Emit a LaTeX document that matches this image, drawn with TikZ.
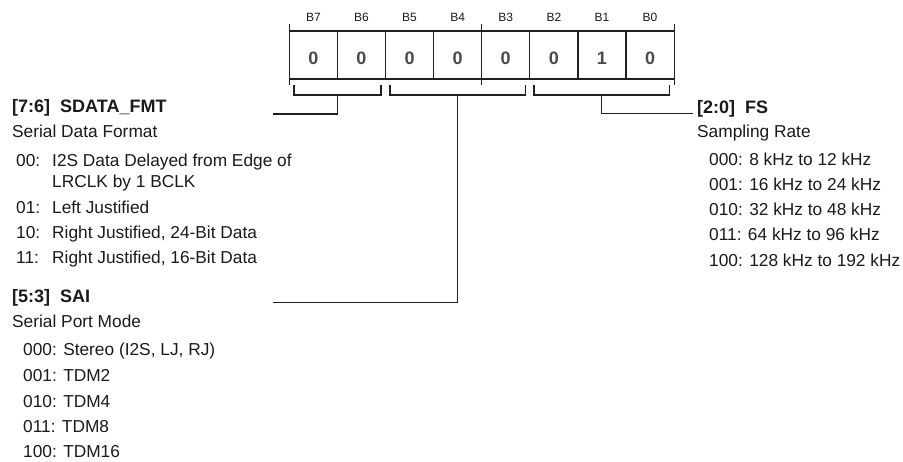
\documentclass[tikz,border=0pt]{standalone}
\usepackage{fontspec}
\setmainfont{Liberation Sans}
\definecolor{linec}{HTML}{202020}
\definecolor{textc}{HTML}{1A1A1A}
\definecolor{digitc}{HTML}{4A4A4A}
\begin{document}
\begin{tikzpicture}[x=1pt,y=-1pt,
  cellbox/.style={draw=linec, line width=1.2pt, minimum width=48.1pt, minimum height=48pt, inner sep=0pt, outer sep=0pt},
  reg/.style={line width=1.2pt, draw=linec},
  conn/.style={line width=1.2pt, draw=linec},
  txt/.style={anchor=base west, inner sep=0pt, font=\fontsize{17.3}{20}\selectfont, text=textc},
  ttl/.style={anchor=base west, inner sep=0pt, font=\fontsize{18}{20}\selectfont\bfseries, text=textc},
  bitlbl/.style={anchor=base, inner sep=0pt, font=\fontsize{12}{14}\selectfont, text=textc},
  bitval/.style={anchor=base, inner sep=0pt, font=\fontsize{18}{20}\selectfont\bfseries, text=digitc}]
\useasboundingbox (0,0) rectangle (903,462);
% register cells
\foreach \b/\v [count=\k from 0] in {7/0,6/0,5/0,4/0,3/0,2/0,1/1,0/0}{
  \pgfmathsetmacro{\cx}{289.3+24.05+\k*48.1}
  \node[cellbox] (c\b) at (\cx,55) {};
  \node[bitlbl] (l\b) at (\cx,21.8) {B\b};
  \node[bitval] (v\b) at (\cx,64.5) {\v};
}
% extended ticks
\draw[reg] ([yshift=7pt]c7.north west) -- ([yshift=-6pt]c7.south west);
\draw[reg] ([yshift=7pt]c3.north west) -- ([yshift=-6pt]c3.south west);
\draw[reg] ([yshift=7pt]c0.north east) -- ([yshift=-6pt]c0.south east);
% brackets
\coordinate (b1) at (337.6,95);
\coordinate (b2) at (457.8,95);
\coordinate (b3) at (601.8,95);
\draw[reg] (294,85) -- (294,95) -- (381,95) -- (381,85);
\draw[reg] (390,85) -- (390,95) -- (525.5,95) -- (525.5,85);
\draw[reg] (534,85) -- (534,95) -- (669.5,95) -- (669.5,85);
% connector ends
\coordinate (e1) at (273,114);
\coordinate (e2) at (273,302.5);
\coordinate (e3) at (693,113.5);
\draw[conn] (b1) |- (e1);
\draw[conn] (b2) |- (e2);
\draw[conn] (b3) |- (e3);
% SDATA_FMT
\node[ttl] (t1) at (12,113) {[7:6]\ \ SDATA\_FMT};
\node[txt] (t1s) at (12,137.7) {Serial Data Format};
\node[txt] (t1a) at (16,167) {00:};
\node[txt] (t1ad) at (52,167) {I2S Data Delayed from Edge of};
\node[txt] (t1ae) at (52,188) {LRCLK by 1 BCLK};
\node[txt] (t1b) at (16,214) {01:};
\node[txt] (t1bd) at (52,214) {Left Justified};
\node[txt] (t1c) at (16,239) {10:};
\node[txt] (t1cd) at (52,239) {Right Justified, 24-Bit Data};
\node[txt] (t1d) at (16,264) {11:};
\node[txt] (t1dd) at (52,264) {Right Justified, 16-Bit Data};
% SAI
\node[ttl] (t2) at (12,303) {[5:3]\ \ SAI};
\node[txt] (t2s) at (12,328) {Serial Port Mode};
\node[txt] (t2a) at (23,356) {000: Stereo (I2S, LJ, RJ)};
\node[txt] (t2b) at (23,382) {001: TDM2};
\node[txt] (t2c) at (23,407.5) {010: TDM4};
\node[txt] (t2d) at (23,432.5) {011: TDM8};
\node[txt] (t2e) at (23,457.5) {100: TDM16};
% FS
\node[ttl] (t3) at (697,114) {[2:0]\ \ FS};
\node[txt] (t3s) at (697,137.7) {Sampling Rate};
\node[txt] (t3a) at (709,166) {000: 8 kHz to 12 kHz};
\node[txt] (t3b) at (709,190.5) {001: 16 kHz to 24 kHz};
\node[txt] (t3c) at (709,215.5) {010: 32 kHz to 48 kHz};
\node[txt] (t3d) at (709,241) {011: 64 kHz to 96 kHz};
\node[txt] (t3e) at (709,267) {100: 128 kHz to 192 kHz};
\end{tikzpicture}
\end{document}
